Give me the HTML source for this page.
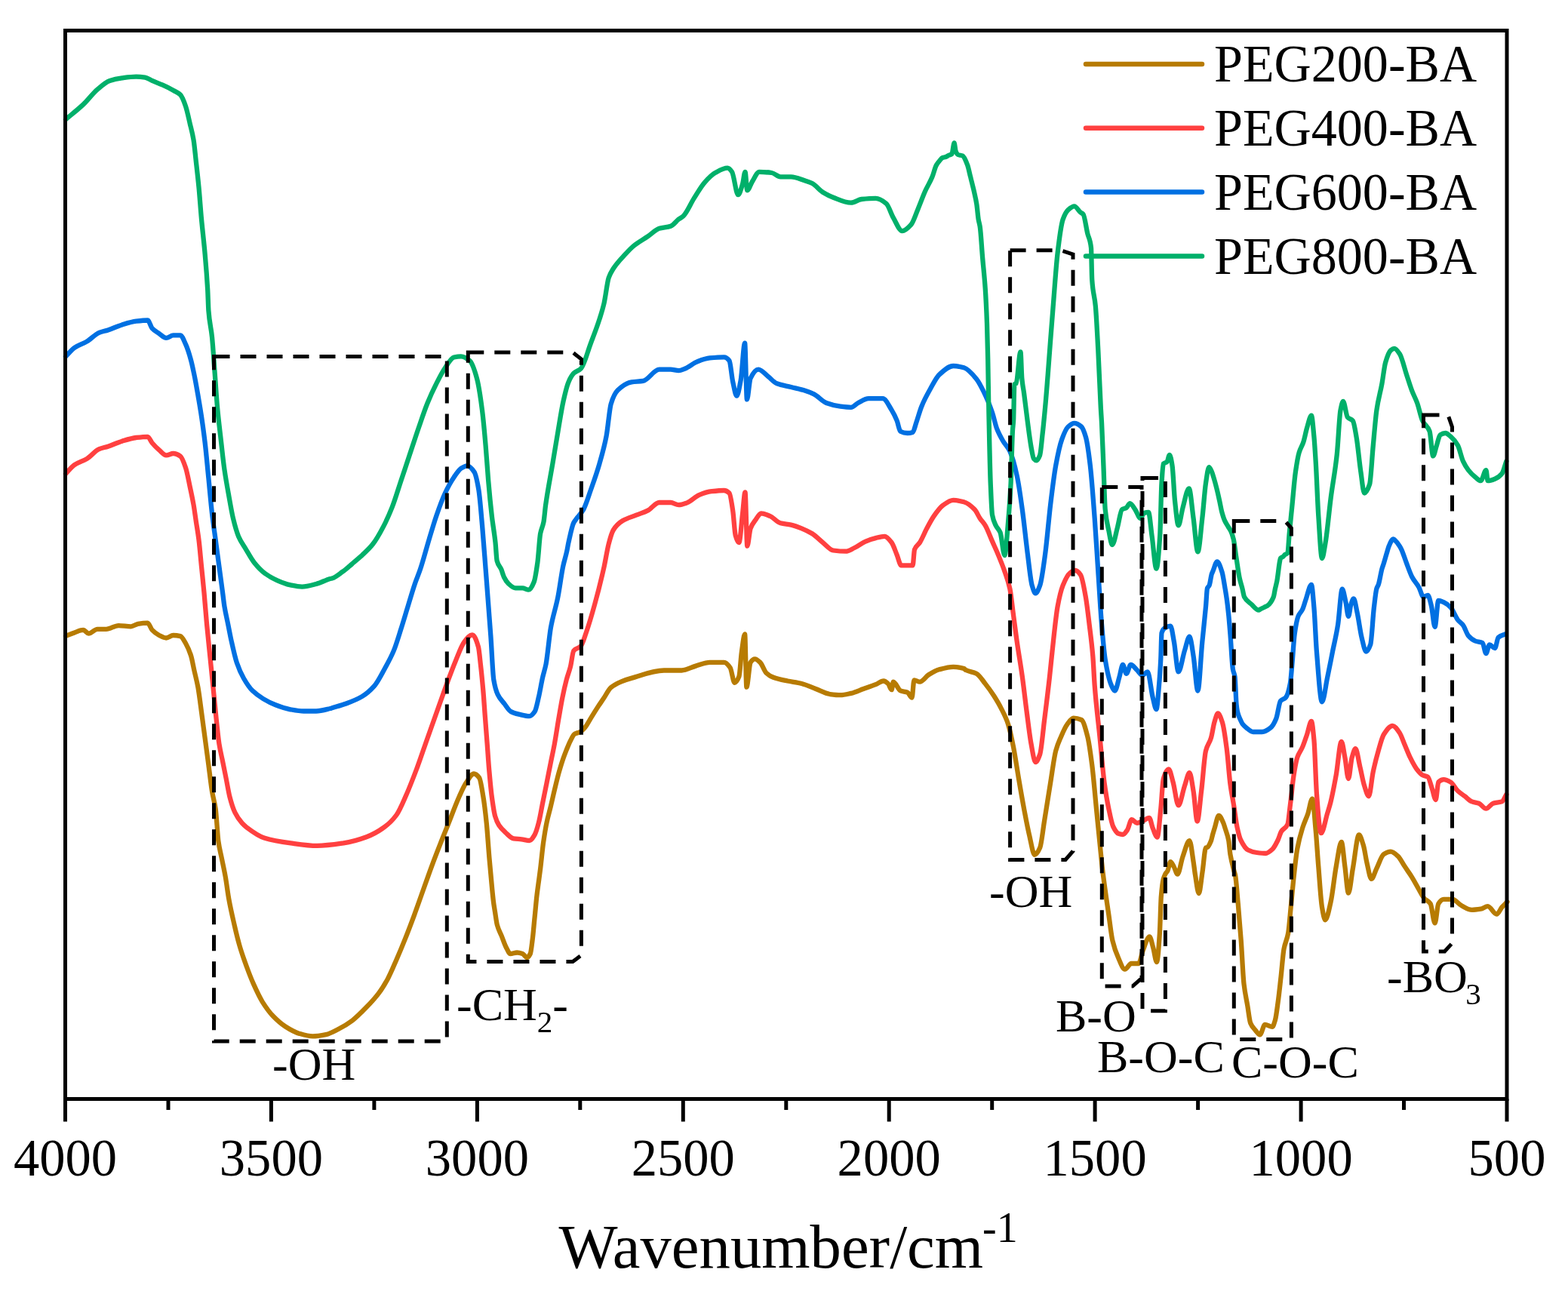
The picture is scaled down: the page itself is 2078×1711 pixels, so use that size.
<!DOCTYPE html>
<html><head><meta charset="utf-8"><title>FTIR spectra</title>
<style>
html,body{margin:0;padding:0;background:#fff;}
svg{display:block;}
.t{font-family:"Liberation Serif","Times New Roman",serif;fill:#000;}
</style></head>
<body>
<svg width="2078" height="1711" viewBox="0 0 2078 1711">
<rect width="2078" height="1711" fill="#fff"/>
<path d="M87.0,843.1C90.9,841.5 94.8,839.7 98.7,838.4C102.6,837.1 106.5,834.9 110.4,834.9C112.7,834.9 115.1,839.6 117.4,839.6C121.3,839.6 125.2,833.8 129.1,833.8C133.0,833.8 136.9,833.8 140.8,833.8C146.2,833.8 151.7,829.1 157.1,829.1C162.6,829.1 168.0,830.3 173.5,830.3C176.6,830.3 179.8,827.3 182.9,826.8C187.2,826.1 191.4,825.6 195.7,825.6C197.7,825.6 199.6,832.8 201.6,834.9C204.7,838.2 207.8,840.4 210.9,842.0C214.0,843.6 217.2,845.5 220.3,845.5C223.4,845.5 226.5,842.0 229.6,842.0C232.7,842.0 235.9,842.4 239.0,843.1C241.3,843.6 243.7,848.5 246.0,852.5C248.3,856.5 250.7,861.5 253.0,868.8C254.6,873.7 256.1,882.9 257.7,889.9C259.3,896.9 260.8,902.3 262.4,910.9C263.9,919.3 265.5,932.4 267.0,943.6C268.6,955.0 270.1,967.0 271.7,978.7C273.3,990.4 274.8,1002.0 276.4,1013.8C277.9,1025.4 279.5,1039.6 281.0,1048.8C282.6,1058.2 284.1,1061.1 285.7,1072.2C286.9,1080.9 288.2,1106.2 289.4,1115.0C290.9,1126.0 292.5,1130.7 294.0,1138.4C295.6,1146.3 297.1,1153.0 298.7,1161.8C300.3,1170.6 301.8,1183.6 303.4,1192.2C305.7,1205.0 308.1,1214.9 310.4,1225.0C312.7,1235.1 315.1,1245.0 317.4,1253.0C320.5,1263.8 323.7,1272.5 326.8,1281.0C329.9,1289.5 333.0,1297.5 336.1,1304.4C340.0,1313.1 343.9,1321.5 347.8,1327.8C352.5,1335.3 357.1,1341.6 361.8,1346.5C367.3,1352.2 372.7,1357.0 378.2,1360.5C384.4,1364.5 390.7,1368.1 396.9,1369.9C402.7,1371.6 408.6,1373.4 414.4,1373.4C420.3,1373.4 426.1,1372.3 432.0,1371.1C437.4,1370.0 442.9,1366.8 448.3,1364.0C454.5,1360.8 460.8,1357.1 467.0,1352.4C473.2,1347.7 479.5,1341.2 485.7,1334.8C491.2,1329.2 496.6,1323.4 502.1,1316.1C506.0,1310.9 509.9,1304.6 513.8,1297.4C517.7,1290.2 521.6,1280.6 525.5,1271.7C529.4,1262.8 533.3,1253.4 537.2,1243.6C541.1,1233.9 544.9,1223.8 548.8,1213.3C552.7,1202.8 556.6,1191.4 560.5,1180.5C564.4,1169.6 568.3,1158.3 572.2,1147.8C576.1,1137.3 580.0,1127.3 583.9,1117.4C587.0,1109.4 590.2,1101.8 593.3,1094.0C598.5,1081.1 603.6,1066.7 608.8,1055.3C611.7,1048.9 614.6,1042.1 617.5,1037.8C621.0,1032.6 624.5,1025.5 628.0,1025.5C630.4,1025.5 632.7,1027.6 635.1,1030.7C636.8,1033.0 638.6,1044.9 640.3,1055.3C641.8,1064.1 643.2,1075.9 644.7,1090.3C646.0,1102.6 647.2,1123.1 648.5,1137.7C649.5,1149.9 650.6,1161.0 651.6,1171.9C652.3,1179.5 653.1,1187.9 653.8,1193.8C654.5,1199.7 655.3,1203.8 656.0,1208.5C657.0,1214.6 657.9,1222.4 658.9,1226.0C660.9,1233.2 662.8,1235.7 664.8,1240.6C666.7,1245.4 668.7,1251.5 670.6,1255.2C672.5,1258.9 674.5,1264.0 676.4,1264.0C679.3,1264.0 682.3,1262.5 685.2,1262.5C687.6,1262.5 690.1,1263.2 692.5,1264.0C694.5,1264.7 696.4,1269.1 698.4,1269.1C699.9,1269.1 701.3,1267.0 702.8,1264.0C703.8,1262.0 704.7,1252.7 705.7,1245.0C706.7,1237.3 707.6,1225.5 708.6,1215.8C709.6,1206.1 710.5,1194.9 711.5,1186.5C712.5,1178.1 713.4,1172.1 714.4,1164.6C715.0,1160.1 715.6,1155.6 716.2,1150.8C717.5,1140.1 718.8,1125.9 720.1,1116.6C721.6,1106.2 723.0,1097.4 724.5,1090.3C726.2,1081.9 728.0,1076.5 729.7,1069.3C731.5,1061.9 733.2,1053.9 735.0,1046.5C736.7,1039.3 738.5,1031.8 740.2,1025.5C742.0,1019.1 743.7,1013.3 745.5,1008.0C747.2,1002.8 749.0,998.2 750.7,993.9C752.5,989.5 754.2,985.1 756.0,981.7C757.8,978.3 759.5,974.0 761.3,972.9C763.6,971.4 766.0,971.5 768.3,970.3C770.6,969.1 773.0,966.7 775.3,964.1C778.2,960.8 781.1,954.7 784.0,950.1C786.9,945.4 789.9,940.6 792.8,936.1C795.2,932.5 797.6,929.2 800.0,925.6C803.1,921.0 806.3,914.1 809.4,911.4C814.1,907.4 818.7,905.3 823.4,903.3C828.1,901.3 832.7,899.9 837.4,898.6C851.6,894.5 865.8,888.5 880.0,888.5C887.8,888.5 895.6,888.5 903.4,888.5C909.6,888.5 915.9,884.3 922.1,882.6C928.3,880.9 934.6,877.9 940.8,877.9C947.0,877.9 953.3,877.9 959.5,877.9C962.2,877.9 965.0,881.1 967.7,885.0C969.6,887.8 971.6,904.8 973.5,904.8C975.5,904.8 977.4,901.7 979.4,896.6C980.6,893.6 981.7,872.1 982.9,863.9C984.3,854.1 985.7,840.5 987.1,840.5C987.9,840.5 988.6,910.7 989.4,910.7C991.1,910.7 992.9,880.4 994.6,877.9C996.5,875.1 998.5,873.3 1000.4,873.3C1002.7,873.3 1005.1,875.7 1007.4,877.9C1010.1,880.5 1012.9,889.5 1015.6,892.0C1018.7,894.9 1021.8,896.6 1024.9,897.8C1031.1,900.1 1037.4,901.2 1043.6,902.5C1049.9,903.8 1056.1,904.4 1062.4,906.0C1068.6,907.6 1074.9,910.7 1081.1,913.0C1087.3,915.3 1093.6,919.2 1099.8,920.0C1104.5,920.6 1109.1,921.2 1113.8,921.2C1118.5,921.2 1123.1,919.9 1127.8,918.9C1133.3,917.7 1138.7,915.0 1144.2,913.0C1149.6,911.1 1155.1,909.4 1160.5,907.2C1164.0,905.8 1167.5,902.5 1171.0,902.5C1173.0,902.5 1174.9,904.2 1176.9,906.0C1178.5,907.4 1180.0,914.2 1181.6,914.2C1182.4,914.2 1183.1,903.7 1183.9,903.7C1187.0,903.7 1190.2,914.1 1193.3,915.4C1196.4,916.7 1199.5,916.4 1202.6,917.7C1204.6,918.5 1206.5,924.7 1208.5,924.7C1209.5,924.7 1210.5,901.3 1211.5,901.3C1214.0,901.3 1216.5,903.7 1219.0,903.7C1222.9,903.7 1226.8,896.7 1230.7,894.3C1235.4,891.4 1240.0,888.6 1244.7,887.3C1250.9,885.6 1257.2,883.8 1263.4,883.8C1268.1,883.8 1272.7,884.6 1277.4,886.1C1278.3,886.4 1279.1,887.6 1280.0,888.0C1284.7,890.4 1289.3,890.3 1294.0,892.8C1297.9,894.9 1301.8,901.2 1305.7,906.1C1309.6,911.0 1313.5,916.4 1317.4,922.5C1320.5,927.4 1323.7,932.6 1326.8,938.8C1329.9,944.9 1333.0,950.5 1336.1,959.9C1338.4,967.0 1340.8,978.5 1343.1,990.3C1345.4,1002.1 1347.8,1018.8 1350.1,1032.4C1352.4,1046.0 1354.8,1059.8 1357.1,1072.1C1359.5,1084.6 1361.8,1097.2 1364.2,1107.2C1366.5,1117.0 1368.9,1132.9 1371.2,1132.9C1373.5,1132.9 1375.9,1128.7 1378.2,1123.5C1380.1,1119.2 1382.1,1100.4 1384.0,1088.5C1386.7,1071.7 1389.5,1053.8 1392.2,1037.0C1394.5,1022.7 1396.9,1003.7 1399.2,995.0C1401.5,986.3 1403.9,981.6 1406.2,976.2C1408.9,969.9 1411.7,963.5 1414.4,959.9C1417.1,956.3 1419.9,951.7 1422.6,951.7C1426.1,951.7 1429.6,952.5 1433.1,954.0C1435.8,955.1 1438.6,965.6 1441.3,976.2C1443.3,983.8 1445.2,998.3 1447.2,1013.6C1449.1,1028.7 1451.1,1052.6 1453.0,1072.1C1454.9,1091.6 1456.9,1111.4 1458.8,1130.5C1459.5,1137.1 1460.1,1144.3 1460.8,1150.0C1463.7,1175.0 1466.6,1193.1 1469.5,1213.5C1471.1,1224.7 1472.7,1239.3 1474.3,1246.2C1476.9,1257.2 1479.4,1263.6 1482.0,1269.3C1484.9,1275.8 1487.8,1284.7 1490.7,1284.7C1493.6,1284.7 1496.4,1277.0 1499.3,1277.0C1502.5,1277.0 1505.8,1277.0 1509.0,1277.0C1510.9,1277.0 1512.8,1264.5 1514.7,1259.7C1517.6,1252.4 1520.5,1241.4 1523.4,1241.4C1525.0,1241.4 1526.6,1250.4 1528.2,1255.9C1529.8,1261.4 1531.4,1275.1 1533.0,1275.1C1534.3,1275.1 1535.6,1256.0 1536.9,1236.6C1537.5,1227.1 1538.2,1196.5 1538.8,1188.5C1539.8,1176.3 1540.7,1169.3 1541.7,1165.4C1542.5,1162.1 1543.4,1160.2 1544.2,1158.6C1545.3,1156.5 1546.4,1156.0 1547.5,1153.8C1548.7,1151.4 1550.0,1142.2 1551.2,1142.2C1552.7,1142.2 1554.1,1146.0 1555.6,1148.5C1557.2,1151.2 1558.9,1158.6 1560.5,1158.6C1562.8,1158.6 1565.2,1141.7 1567.5,1135.2C1570.5,1126.9 1573.4,1114.2 1576.4,1114.2C1578.1,1114.2 1579.9,1131.3 1581.6,1142.2C1582.4,1147.2 1583.2,1154.7 1584.0,1159.6C1585.6,1169.3 1587.2,1184.0 1588.8,1184.0C1590.3,1184.0 1591.9,1166.1 1593.5,1155.8C1595.0,1146.0 1596.5,1124.3 1598.0,1123.5C1598.7,1123.2 1599.3,1123.2 1600.0,1122.9C1601.7,1122.1 1603.3,1118.4 1605.0,1114.2C1605.7,1112.5 1606.3,1108.9 1607.0,1106.5C1607.9,1103.4 1608.7,1100.6 1609.6,1097.8C1611.5,1091.8 1613.3,1080.8 1615.2,1080.8C1617.2,1080.8 1619.3,1086.3 1621.3,1090.8C1622.0,1092.4 1622.7,1094.9 1623.4,1097.1C1625.0,1102.3 1626.7,1105.6 1628.3,1114.2C1629.0,1117.9 1629.7,1128.0 1630.4,1132.2C1632.1,1142.3 1633.7,1147.5 1635.4,1153.9C1635.9,1156.0 1636.5,1157.0 1637.0,1159.6C1638.3,1165.9 1639.5,1184.0 1640.8,1198.1C1642.1,1212.6 1643.4,1228.5 1644.7,1246.2C1646.0,1263.5 1647.2,1292.9 1648.5,1304.0C1650.1,1318.0 1651.7,1323.3 1653.3,1332.9C1654.6,1340.7 1655.9,1352.8 1657.2,1356.0C1659.4,1361.4 1661.7,1363.0 1663.9,1365.6C1665.8,1367.9 1667.8,1371.4 1669.7,1371.4C1671.9,1371.4 1674.2,1357.9 1676.4,1357.9C1679.6,1357.9 1682.9,1360.8 1686.1,1360.8C1687.4,1360.8 1688.6,1356.4 1689.9,1352.1C1691.2,1347.7 1692.5,1336.7 1693.8,1327.1C1695.1,1317.8 1696.3,1305.8 1697.6,1294.4C1698.9,1282.7 1700.2,1264.9 1701.5,1257.8C1703.4,1247.4 1705.3,1247.2 1707.2,1236.6C1708.5,1229.4 1709.8,1211.1 1711.1,1198.1C1712.4,1185.4 1713.6,1171.0 1714.9,1159.6C1716.3,1146.8 1717.8,1133.1 1719.2,1125.2C1721.5,1112.4 1723.9,1104.5 1726.2,1097.1C1728.6,1089.6 1730.9,1085.5 1733.3,1078.4C1735.2,1072.6 1737.2,1058.6 1739.1,1058.6C1740.7,1058.6 1742.2,1084.6 1743.8,1101.8C1745.0,1114.6 1746.1,1134.2 1747.3,1148.6C1748.9,1168.0 1750.4,1193.3 1752.0,1202.4C1753.4,1210.7 1754.9,1219.3 1756.3,1219.3C1758.7,1219.3 1761.2,1206.0 1763.6,1195.3C1766.0,1184.9 1768.3,1161.5 1770.7,1148.6C1773.0,1135.9 1775.4,1115.9 1777.7,1115.9C1779.3,1115.9 1780.8,1137.2 1782.4,1148.6C1783.9,1159.7 1785.5,1183.6 1787.0,1183.6C1789.0,1183.6 1790.9,1161.7 1792.9,1150.9C1795.6,1136.0 1798.3,1106.5 1801.0,1106.5C1803.0,1106.5 1804.9,1114.1 1806.9,1120.5C1808.5,1125.6 1810.0,1137.3 1811.6,1143.9C1813.5,1152.1 1815.5,1164.9 1817.4,1164.9C1819.7,1164.9 1822.1,1155.6 1824.4,1150.9C1827.5,1144.6 1830.7,1134.2 1833.8,1132.2C1836.9,1130.2 1840.0,1128.7 1843.1,1128.7C1846.2,1128.7 1849.4,1131.8 1852.5,1134.6C1855.6,1137.3 1858.7,1144.0 1861.8,1148.6C1864.9,1153.3 1868.1,1157.5 1871.2,1162.6C1874.3,1167.6 1877.4,1173.7 1880.5,1179.0C1882.8,1183.0 1885.2,1188.0 1887.5,1190.7C1890.2,1193.8 1893.0,1193.6 1895.7,1197.7C1897.7,1200.6 1899.6,1223.4 1901.6,1223.4C1903.2,1223.4 1904.7,1200.1 1906.3,1197.7C1908.6,1194.1 1911.0,1191.8 1913.3,1191.8C1917.2,1191.8 1921.1,1191.8 1925.0,1191.8C1928.9,1191.8 1932.7,1198.0 1936.6,1200.0C1941.3,1202.5 1946.0,1205.9 1950.7,1205.9C1954.6,1205.9 1958.5,1205.3 1962.4,1204.7C1965.5,1204.2 1968.6,1201.2 1971.7,1201.2C1975.6,1201.2 1979.5,1211.7 1983.4,1211.7C1985.7,1211.7 1988.1,1205.1 1990.4,1202.4C1992.7,1199.7 1995.1,1197.7 1997.4,1195.3" fill="none" stroke="#B77B02" stroke-width="6.3" stroke-linejoin="round" stroke-linecap="round"/>
<path d="M87.0,627.9C90.9,624.0 94.8,618.8 98.7,616.2C104.1,612.5 109.6,611.4 115.0,608.1C120.5,604.8 125.9,597.5 131.4,595.2C135.3,593.6 139.2,593.0 143.1,591.7C149.3,589.6 155.6,586.6 161.8,584.7C168.0,582.8 174.3,580.7 180.5,580.0C185.6,579.4 190.6,578.8 195.7,578.8C197.7,578.8 199.6,584.7 201.6,587.0C204.7,590.7 207.8,593.7 210.9,596.4C214.0,599.1 217.2,603.4 220.3,603.4C223.4,603.4 226.5,601.0 229.6,601.0C232.7,601.0 235.9,602.5 239.0,604.6C241.3,606.2 243.7,612.9 246.0,619.8C247.9,625.5 249.9,636.4 251.8,645.5C253.4,652.8 254.9,659.8 256.5,668.8C257.7,675.5 258.8,684.4 260.0,692.2C261.2,700.0 262.3,706.2 263.5,715.6C264.7,725.0 265.8,739.0 267.0,750.7C268.2,762.4 269.3,773.1 270.5,785.7C271.7,798.3 272.8,814.2 274.0,826.8C275.6,843.7 277.1,857.9 278.7,873.5C280.3,889.1 281.8,904.7 283.4,920.3C284.6,931.9 285.7,944.5 286.9,955.3C288.1,966.1 289.2,978.2 290.4,985.7C292.0,995.7 293.5,1001.3 295.1,1009.1C296.7,1016.9 298.2,1024.6 299.8,1032.5C301.3,1040.2 302.9,1050.0 304.4,1055.9C306.7,1064.9 309.1,1072.2 311.4,1076.9C314.5,1083.2 317.7,1087.4 320.8,1090.9C322.8,1093.1 324.8,1094.9 326.8,1096.4C334.6,1102.3 342.3,1108.0 350.1,1110.4C361.8,1114.0 373.5,1115.8 385.2,1117.4C396.9,1119.0 408.6,1120.9 420.3,1120.9C432.0,1120.9 443.6,1119.1 455.3,1117.4C465.4,1115.9 475.6,1112.9 485.7,1109.2C493.5,1106.3 501.3,1102.0 509.1,1096.4C514.6,1092.5 520.0,1087.5 525.5,1080.0C529.7,1074.2 534.0,1063.5 538.2,1054.0C542.9,1043.5 547.5,1031.4 552.2,1019.0C556.9,1006.6 561.5,992.4 566.2,979.2C570.9,965.9 575.6,952.7 580.3,939.5C584.2,928.6 588.1,917.3 592.0,906.8C595.9,896.3 599.7,885.6 603.6,876.4C607.5,867.1 611.4,855.6 615.3,850.7C618.8,846.3 622.4,841.3 625.9,841.3C628.6,841.3 631.3,848.1 634.0,857.7C634.9,861.0 635.9,871.7 636.8,880.0C638.0,890.3 639.1,901.6 640.3,915.1C641.2,925.1 642.0,938.6 642.9,950.1C643.8,962.0 644.7,973.3 645.6,985.2C646.5,996.7 647.3,1010.2 648.2,1020.2C649.4,1033.7 650.5,1046.5 651.7,1055.3C653.2,1066.4 654.6,1076.6 656.1,1081.6C657.8,1087.5 659.6,1091.1 661.3,1093.8C664.2,1098.3 667.2,1100.9 670.1,1103.5C673.6,1106.6 677.1,1110.9 680.6,1111.4C684.1,1111.9 687.6,1111.9 691.1,1112.3C694.6,1112.7 698.2,1114.0 701.7,1114.0C704.0,1114.0 706.4,1110.0 708.7,1106.1C710.4,1103.2 712.2,1096.8 713.9,1090.3C715.7,1083.6 717.4,1072.7 719.2,1064.0C721.0,1055.3 722.7,1046.6 724.5,1037.8C726.2,1029.1 728.0,1020.2 729.7,1011.5C731.5,1002.6 733.2,994.9 735.0,985.2C736.7,975.7 738.5,963.7 740.2,953.6C742.0,943.3 743.7,932.5 745.5,923.8C747.2,915.3 749.0,907.5 750.7,901.0C752.5,894.3 754.2,890.5 756.0,883.5C757.4,877.8 758.9,864.2 760.3,862.4C763.4,858.6 766.5,859.7 769.6,856.5C771.9,854.1 774.3,845.6 776.6,839.0C780.5,827.9 784.5,814.2 788.4,800.0C792.5,785.3 796.5,769.4 800.6,751.1C802.6,742.0 804.7,728.3 806.7,720.7C808.7,713.1 810.8,705.7 812.8,702.5C816.8,696.1 820.9,692.7 824.9,690.3C831.0,686.6 837.1,685.2 843.2,682.7C848.3,680.6 853.3,679.2 858.4,676.6C863.5,674.0 868.5,666.0 873.6,666.0C878.7,666.0 883.7,666.0 888.8,666.0C892.3,666.0 895.9,669.1 899.4,669.1C903.1,669.1 906.7,667.7 910.4,666.4C915.9,664.5 921.3,658.1 926.8,655.9C932.2,653.7 937.7,651.8 943.1,651.2C948.6,650.6 954.0,650.0 959.5,650.0C961.8,650.0 964.2,651.3 966.5,653.5C968.1,655.0 969.6,666.6 971.2,676.9C972.4,684.6 973.5,705.6 974.7,709.6C976.3,714.9 977.8,719.0 979.4,719.0C980.9,719.0 982.5,694.3 984.0,681.6C985.2,672.0 986.3,652.3 987.5,652.3C988.4,652.3 989.4,723.6 990.3,723.6C991.7,723.6 993.2,704.1 994.6,700.3C996.9,694.1 999.3,691.8 1001.6,688.6C1003.9,685.4 1006.3,680.4 1008.6,680.4C1012.5,680.4 1016.4,682.3 1020.3,683.9C1025.0,685.8 1029.6,692.1 1034.3,693.3C1039.0,694.5 1043.6,694.6 1048.3,695.6C1053.0,696.6 1057.7,698.4 1062.4,700.3C1067.1,702.2 1071.7,704.4 1076.4,707.3C1081.1,710.2 1085.7,715.3 1090.4,719.0C1095.1,722.7 1099.7,728.9 1104.4,729.5C1109.9,730.2 1115.3,730.7 1120.8,730.7C1124.7,730.7 1128.6,727.8 1132.5,726.0C1137.2,723.8 1141.8,719.8 1146.5,717.8C1151.2,715.8 1155.8,714.2 1160.5,713.1C1164.4,712.1 1168.3,710.8 1172.2,710.8C1175.3,710.8 1178.5,714.9 1181.6,719.0C1183.9,722.0 1186.3,729.7 1188.6,735.3C1190.5,739.9 1192.5,749.4 1194.4,749.4C1197.1,749.4 1199.9,749.4 1202.6,749.4C1204.9,749.4 1207.3,749.4 1209.6,749.4C1210.4,749.4 1211.2,730.4 1212.0,728.3C1214.3,722.2 1216.7,722.7 1219.0,719.0C1222.1,714.1 1225.2,706.1 1228.3,700.3C1231.4,694.4 1234.6,688.4 1237.7,683.9C1241.6,678.3 1245.5,672.7 1249.4,669.9C1254.1,666.6 1258.7,662.9 1263.4,662.9C1268.1,662.9 1272.7,664.0 1277.4,665.2C1282.2,666.5 1286.9,670.3 1291.7,675.3C1294.0,677.7 1296.4,683.5 1298.7,687.0C1301.0,690.5 1303.4,692.5 1305.7,696.4C1308.8,701.6 1311.9,710.4 1315.0,717.4C1317.7,723.6 1320.5,729.5 1323.2,736.1C1325.9,742.7 1328.7,749.2 1331.4,757.2C1333.7,764.0 1336.1,769.5 1338.4,780.5C1340.0,787.9 1341.5,803.9 1343.1,815.6C1344.7,827.3 1346.2,839.7 1347.8,850.7C1350.1,867.1 1352.5,880.0 1354.8,896.8C1356.8,911.0 1358.7,928.6 1360.7,943.5C1362.6,958.1 1364.6,975.3 1366.5,985.6C1368.4,995.9 1370.4,1010.1 1372.3,1010.1C1374.3,1010.1 1376.2,1005.3 1378.2,999.6C1380.1,994.0 1382.1,970.6 1384.0,955.2C1386.3,936.6 1388.7,917.7 1391.0,896.8C1392.2,886.0 1393.4,873.2 1394.6,862.4C1396.9,841.4 1399.3,816.5 1401.6,803.9C1403.9,791.3 1406.3,781.7 1408.6,775.9C1411.7,768.2 1414.8,761.8 1417.9,759.5C1420.3,757.7 1422.6,756.0 1425.0,756.0C1427.3,756.0 1429.7,758.6 1432.0,761.8C1434.3,765.0 1436.7,779.0 1439.0,792.2C1440.5,800.9 1442.1,814.7 1443.6,827.3C1445.2,840.2 1446.7,850.7 1448.3,869.4C1449.1,878.9 1449.9,898.1 1450.7,908.4C1453.0,938.5 1455.4,955.2 1457.7,978.6C1459.6,998.0 1461.6,1022.5 1463.5,1037.0C1465.5,1051.7 1467.4,1062.6 1469.4,1072.1C1471.3,1081.4 1473.3,1091.6 1475.2,1095.5C1477.5,1100.2 1479.9,1104.0 1482.2,1104.8C1484.1,1105.5 1486.1,1106.0 1488.0,1106.0C1490.0,1106.0 1491.9,1102.9 1493.9,1100.1C1495.9,1097.3 1497.8,1086.1 1499.8,1086.1C1502.1,1086.1 1504.5,1090.8 1506.8,1090.8C1509.1,1090.8 1511.5,1089.4 1513.8,1088.5C1516.9,1087.3 1520.0,1083.8 1523.1,1083.8C1524.7,1083.8 1526.2,1094.0 1527.8,1097.8C1529.8,1102.5 1531.7,1109.5 1533.7,1109.5C1535.2,1109.5 1536.8,1086.7 1538.3,1072.1C1539.5,1061.0 1540.6,1036.4 1541.8,1032.4C1544.1,1024.4 1546.5,1019.5 1548.8,1019.5C1550.8,1019.5 1552.7,1030.1 1554.7,1037.0C1557.0,1045.2 1559.4,1067.4 1561.7,1067.4C1564.4,1067.4 1567.2,1049.6 1569.9,1041.7C1572.1,1035.4 1574.2,1024.2 1576.4,1024.2C1578.1,1024.2 1579.9,1038.5 1581.6,1048.7C1583.3,1058.7 1585.0,1088.5 1586.7,1088.5C1588.5,1088.5 1590.3,1063.3 1592.1,1048.7C1594.1,1032.7 1596.0,1002.7 1598.0,995.0C1600.3,986.1 1602.6,985.8 1604.8,978.4C1606.4,973.4 1607.9,962.2 1609.4,957.2C1610.9,952.2 1612.5,945.5 1614.0,945.5C1616.0,945.5 1617.9,951.3 1619.9,957.2C1621.8,963.0 1623.8,977.5 1625.7,992.2C1627.3,1004.1 1628.8,1027.2 1630.4,1039.0C1631.9,1050.5 1633.5,1057.2 1635.0,1066.8C1636.6,1076.6 1638.1,1090.0 1639.7,1097.1C1641.3,1104.2 1642.8,1110.3 1644.4,1113.5C1647.6,1120.0 1650.7,1124.9 1653.9,1126.5C1657.8,1128.5 1661.7,1129.5 1665.6,1130.0C1669.4,1130.5 1673.3,1131.0 1677.1,1131.0C1680.2,1131.0 1683.4,1128.1 1686.5,1125.2C1688.8,1123.0 1691.2,1118.2 1693.5,1113.5C1695.1,1110.3 1696.6,1104.3 1698.2,1101.8C1700.9,1097.4 1703.7,1098.5 1706.4,1092.5C1707.6,1090.0 1708.7,1075.9 1709.9,1066.8C1711.5,1054.6 1713.0,1037.2 1714.6,1027.3C1716.1,1017.6 1717.7,1008.4 1719.2,1003.9C1721.5,997.0 1723.9,995.4 1726.2,989.9C1728.2,985.3 1730.1,979.2 1732.1,973.5C1734.0,967.9 1736.0,956.0 1737.9,956.0C1739.1,956.0 1740.2,968.4 1741.4,980.5C1742.6,992.8 1743.8,1037.9 1745.0,1052.9C1746.9,1077.6 1748.8,1104.2 1750.8,1104.2C1753.5,1104.2 1756.3,1087.5 1759.0,1078.4C1760.5,1073.3 1762.1,1068.6 1763.6,1062.4C1766.0,1052.9 1768.3,1040.5 1770.7,1027.3C1773.0,1014.3 1775.4,982.9 1777.7,982.9C1779.3,982.9 1780.8,995.8 1782.4,1003.9C1783.9,1011.8 1785.5,1032.0 1787.0,1032.0C1788.6,1032.0 1790.1,1009.4 1791.7,1003.9C1793.3,998.4 1794.8,992.2 1796.4,992.2C1798.3,992.2 1800.3,1007.5 1802.2,1015.6C1804.2,1023.8 1806.1,1035.2 1808.1,1041.3C1810.0,1047.3 1812.0,1055.3 1813.9,1055.3C1815.9,1055.3 1817.8,1031.8 1819.8,1022.6C1822.1,1011.7 1824.5,1002.6 1826.8,994.6C1829.1,986.6 1831.5,977.2 1833.8,973.5C1837.7,967.4 1841.6,961.8 1845.5,961.8C1848.6,961.8 1851.7,966.7 1854.8,971.2C1857.1,974.6 1859.5,982.1 1861.8,987.5C1864.1,992.9 1866.5,999.2 1868.8,1003.9C1871.9,1010.2 1875.1,1016.4 1878.2,1020.3C1880.5,1023.2 1882.9,1026.1 1885.2,1027.3C1887.5,1028.5 1889.9,1028.2 1892.2,1029.6C1894.2,1030.8 1896.1,1040.3 1898.1,1046.0C1899.6,1050.5 1901.2,1060.0 1902.7,1060.0C1903.9,1060.0 1905.1,1037.8 1906.3,1036.6C1908.6,1034.2 1911.0,1033.1 1913.3,1033.1C1916.4,1033.1 1919.5,1034.8 1922.6,1036.6C1925.7,1038.4 1928.9,1045.4 1932.0,1048.3C1935.1,1051.2 1938.2,1053.0 1941.3,1055.3C1944.4,1057.7 1947.6,1061.2 1950.7,1062.4C1953.8,1063.6 1956.9,1063.5 1960.0,1064.7C1963.1,1065.9 1966.3,1071.7 1969.4,1071.7C1972.5,1071.7 1975.6,1065.7 1978.7,1064.7C1982.6,1063.5 1986.5,1063.9 1990.4,1062.4C1992.4,1061.6 1994.3,1056.1 1996.3,1053.0" fill="none" stroke="#FF4040" stroke-width="6.3" stroke-linejoin="round" stroke-linecap="round"/>
<path d="M87.0,472.5C90.9,468.6 94.8,463.5 98.7,460.8C104.1,457.1 109.6,455.8 115.0,452.6C120.5,449.4 125.9,443.2 131.4,440.9C135.3,439.3 139.2,438.7 143.1,437.4C149.3,435.3 155.6,432.3 161.8,430.4C168.0,428.5 174.3,426.4 180.5,425.7C185.6,425.1 190.6,424.5 195.7,424.5C197.7,424.5 199.6,432.9 201.6,435.1C204.7,438.5 207.8,440.0 210.9,442.1C214.0,444.2 217.2,447.9 220.3,447.9C223.4,447.9 226.5,444.4 229.6,444.4C232.7,444.4 235.9,444.4 239.0,444.4C241.3,444.4 243.7,451.1 246.0,456.1C248.3,461.1 250.7,468.6 253.0,477.1C254.6,482.8 256.1,490.5 257.7,498.2C259.3,505.9 260.8,514.9 262.4,523.9C263.9,532.8 265.5,541.7 267.0,552.0C268.6,562.5 270.1,573.7 271.7,587.0C273.3,600.3 274.8,618.0 276.4,633.8C277.9,649.2 279.5,667.3 281.0,680.5C282.6,694.0 284.1,703.9 285.7,715.6C287.3,727.3 288.8,739.0 290.4,750.7C292.0,762.4 293.5,773.8 295.1,785.7C295.9,791.5 296.6,798.6 297.4,803.4C299.0,813.1 300.5,819.0 302.1,826.8C303.7,834.6 305.2,843.1 306.8,850.1C309.1,860.5 311.5,871.4 313.8,878.2C316.9,887.3 320.0,893.8 323.1,899.2C327.0,906.0 330.9,911.8 334.8,915.6C339.5,920.2 344.1,923.3 348.8,926.1C354.3,929.4 359.7,932.2 365.2,934.3C371.4,936.7 377.7,939.0 383.9,940.1C390.1,941.2 396.4,942.5 402.6,942.5C408.1,942.5 413.5,942.5 419.0,942.5C425.2,942.5 431.5,940.5 437.7,939.0C438.5,938.8 439.2,938.5 440.0,938.3C446.2,936.4 452.5,934.8 458.7,932.5C465.7,929.9 472.7,927.3 479.7,923.1C485.2,919.8 490.6,915.3 496.1,909.1C500.8,903.8 505.4,894.2 510.1,885.7C514.0,878.6 517.9,871.8 521.8,862.4C524.9,854.9 528.1,844.1 531.2,834.3C534.3,824.6 537.4,814.0 540.5,803.9C543.6,793.7 546.8,782.7 549.9,773.5C552.3,766.5 554.7,761.2 557.1,754.0C561.0,742.4 564.9,727.2 568.8,714.3C571.9,703.9 575.1,693.0 578.2,683.9C582.1,672.6 586.0,661.8 589.9,653.5C593.8,645.2 597.7,638.2 601.6,632.5C604.7,627.9 607.8,622.8 610.9,620.8C613.6,619.1 616.4,617.3 619.1,617.3C622.2,617.3 625.4,620.8 628.5,625.5C630.4,628.4 632.4,637.6 634.3,648.8C635.9,657.9 637.4,678.1 639.0,695.6C640.5,712.7 642.1,734.2 643.6,754.0C645.9,783.3 648.1,811.9 650.4,843.6C651.7,861.8 653.0,893.2 654.3,901.0C656.1,911.6 657.8,916.6 659.6,920.3C662.5,926.5 665.5,928.8 668.4,932.6C671.3,936.4 674.2,941.6 677.1,943.1C680.6,945.0 684.1,945.8 687.6,946.6C692.3,947.7 697.0,949.2 701.7,949.2C704.0,949.2 706.4,946.5 708.7,943.1C710.4,940.6 712.2,931.2 713.9,923.8C715.7,916.3 717.4,905.3 719.2,897.5C720.7,891.0 722.1,887.5 723.6,880.0C725.7,869.2 727.8,843.7 729.9,832.0C733.0,814.7 736.1,807.7 739.2,792.2C741.6,780.3 743.9,761.2 746.3,750.1C747.9,742.4 749.6,738.2 751.2,730.7C751.9,727.5 752.6,722.9 753.3,719.7C755.7,708.9 758.0,697.1 760.4,692.5C761.6,690.1 762.9,689.0 764.1,687.3C767.2,683.1 770.2,680.5 773.3,675.1C776.3,669.7 779.4,659.4 782.4,650.8C786.4,639.4 790.5,628.3 794.5,614.3C797.5,603.8 800.6,593.6 803.6,577.9C805.6,567.4 807.7,541.9 809.7,535.3C812.7,525.5 815.8,520.0 818.8,517.1C824.9,511.2 831.0,507.4 837.1,506.4C842.2,505.6 847.2,505.7 852.3,504.9C859.4,503.7 866.5,489.7 873.6,489.7C878.7,489.7 883.7,489.7 888.8,489.7C892.3,489.7 895.9,491.2 899.4,491.2C902.3,491.2 905.1,489.6 908.0,488.5C913.5,486.3 918.9,481.2 924.4,479.1C929.9,477.0 935.3,474.9 940.8,474.4C947.0,473.8 953.3,473.3 959.5,473.3C961.8,473.3 964.2,475.0 966.5,478.0C968.1,480.0 969.6,498.9 971.2,506.0C972.9,513.7 974.6,524.7 976.3,524.7C978.1,524.7 979.9,513.5 981.7,503.7C983.5,493.9 985.3,454.6 987.1,454.6C988.0,454.6 989.0,529.4 989.9,529.4C991.5,529.4 993.0,504.5 994.6,501.3C998.1,494.1 1001.6,489.6 1005.1,489.6C1009.4,489.6 1013.7,495.7 1018.0,499.0C1021.9,502.0 1025.7,506.8 1029.6,508.3C1035.8,510.8 1042.1,511.4 1048.3,513.0C1054.5,514.6 1060.8,515.7 1067.0,517.7C1070.9,518.9 1074.8,520.4 1078.7,522.4C1084.1,525.1 1089.6,532.0 1095.0,534.0C1101.3,536.3 1107.5,537.9 1113.8,538.7C1118.5,539.3 1123.1,539.9 1127.8,539.9C1130.9,539.9 1134.1,535.6 1137.2,534.0C1141.9,531.6 1146.5,528.2 1151.2,528.2C1157.4,528.2 1163.7,528.2 1169.9,528.2C1173.8,528.2 1177.7,537.1 1181.6,543.4C1183.9,547.1 1186.3,551.7 1188.6,557.4C1190.2,561.2 1191.7,570.9 1193.3,571.7C1196.4,573.3 1199.5,574.0 1202.6,574.0C1204.9,574.0 1207.3,573.6 1209.6,572.9C1211.2,572.4 1212.7,564.5 1214.3,560.0C1216.6,553.3 1219.0,544.4 1221.3,538.7C1225.2,529.1 1229.1,522.2 1233.0,515.3C1236.9,508.4 1240.8,500.2 1244.7,496.6C1250.9,490.8 1257.2,485.0 1263.4,485.0C1268.1,485.0 1272.7,486.0 1277.4,487.3C1282.9,488.8 1288.5,495.5 1294.0,502.3C1297.1,506.1 1300.3,512.4 1303.4,518.7C1307.3,526.5 1311.1,535.5 1315.0,546.8C1317.0,552.6 1319.0,562.6 1321.0,567.8C1323.7,574.8 1326.4,579.5 1329.1,584.2C1332.2,589.6 1335.3,591.7 1338.4,598.2C1341.5,604.8 1344.7,616.6 1347.8,630.9C1350.1,641.5 1352.5,658.5 1354.8,675.3C1357.1,692.1 1359.5,715.9 1361.8,733.8C1363.8,748.9 1365.7,769.2 1367.7,775.9C1369.2,781.1 1370.8,786.4 1372.3,786.4C1374.3,786.4 1376.2,781.2 1378.2,775.9C1380.5,769.6 1382.9,750.9 1385.2,733.8C1387.5,716.7 1389.9,687.5 1392.2,668.3C1394.5,649.1 1396.9,629.6 1399.2,616.9C1401.9,602.0 1404.7,589.2 1407.4,581.8C1410.1,574.4 1412.9,567.9 1415.6,565.5C1418.3,563.1 1421.1,560.8 1423.8,560.8C1426.9,560.8 1430.0,562.8 1433.1,565.5C1435.1,567.2 1437.0,572.7 1439.0,579.5C1440.9,586.2 1442.9,600.8 1444.8,616.9C1446.8,633.3 1448.7,660.6 1450.7,687.0C1452.2,707.6 1453.8,734.1 1455.3,757.2C1456.9,780.8 1458.4,808.6 1460.0,827.3C1461.6,846.0 1463.1,864.4 1464.7,874.0C1467.4,890.7 1470.2,902.5 1472.9,908.4C1474.4,911.7 1476.0,915.5 1477.5,915.5C1479.5,915.5 1481.4,903.9 1483.4,897.4C1484.9,892.3 1486.5,881.0 1488.0,881.0C1489.6,881.0 1491.1,892.8 1492.7,892.8C1494.7,892.8 1496.6,881.0 1498.6,881.0C1501.3,881.0 1504.1,885.5 1506.8,888.0C1509.1,890.2 1511.5,895.0 1513.8,895.0C1516.1,895.0 1518.5,890.4 1520.8,890.4C1523.1,890.4 1525.5,915.8 1527.8,924.8C1529.4,930.8 1530.9,940.0 1532.5,940.0C1533.7,940.0 1534.8,921.9 1536.0,908.4C1536.8,899.6 1537.5,889.1 1538.3,873.4C1538.7,865.2 1539.1,840.4 1539.5,839.0C1541.1,833.6 1542.6,832.9 1544.2,832.0C1546.5,830.6 1548.9,829.6 1551.2,829.6C1552.8,829.6 1554.3,842.3 1555.9,850.7C1557.8,861.1 1559.8,890.4 1561.7,890.4C1564.4,890.4 1567.2,870.9 1569.9,862.4C1572.1,855.7 1574.2,843.7 1576.4,843.7C1578.1,843.7 1579.9,858.9 1581.6,869.4C1583.5,881.1 1585.5,915.5 1587.4,915.5C1589.4,915.5 1591.3,871.2 1593.3,850.7C1594.9,834.4 1596.4,821.3 1598.0,803.9C1598.7,796.5 1599.3,781.2 1600.0,779.5C1600.9,777.3 1601.7,777.7 1602.6,775.9C1603.7,773.7 1604.7,764.1 1605.8,760.8C1606.3,759.3 1606.8,758.4 1607.3,757.2C1609.2,752.8 1611.1,744.5 1613.0,744.5C1615.2,744.5 1617.3,751.2 1619.5,758.0C1620.8,762.2 1622.2,772.3 1623.6,780.2C1624.3,784.4 1625.0,788.4 1625.7,793.5C1626.6,799.7 1627.4,807.0 1628.3,815.6C1629.0,822.5 1629.7,831.6 1630.4,840.3C1631.6,854.8 1632.7,880.3 1633.9,887.0C1634.8,892.0 1635.6,891.3 1636.5,896.8C1637.2,901.2 1637.9,927.0 1638.6,933.8C1639.1,938.3 1639.5,941.5 1640.0,943.5C1641.1,948.0 1642.1,950.0 1643.2,952.5C1644.5,955.4 1645.7,958.2 1647.0,959.9C1648.5,961.8 1649.9,963.1 1651.4,964.2C1654.5,966.6 1657.7,970.0 1660.8,970.0C1664.7,970.0 1668.6,970.0 1672.5,970.0C1676.4,970.0 1680.3,967.3 1684.2,964.2C1686.5,962.3 1688.9,958.1 1691.2,952.5C1693.1,947.9 1695.1,931.4 1697.0,929.1C1699.3,926.4 1701.7,927.0 1704.0,924.4C1706.0,922.2 1707.9,916.0 1709.9,905.7C1710.7,901.7 1711.4,890.8 1712.2,882.4C1713.4,869.6 1714.5,848.7 1715.7,840.3C1717.3,829.0 1718.8,820.8 1720.4,816.9C1722.3,812.1 1724.3,811.6 1726.2,807.5C1727.8,804.2 1729.3,797.9 1730.9,793.5C1733.2,786.9 1735.6,774.8 1737.9,774.8C1739.1,774.8 1740.2,791.9 1741.4,805.2C1742.6,818.5 1743.7,849.1 1744.9,863.6C1747.3,893.0 1749.6,930.3 1752.0,930.3C1754.3,930.3 1756.7,909.8 1759.0,898.7C1761.3,887.6 1763.7,875.3 1766.0,863.6C1768.3,851.9 1770.7,843.2 1773.0,828.6C1774.9,816.5 1776.9,780.7 1778.8,780.7C1780.4,780.7 1781.9,791.3 1783.5,798.2C1784.7,803.4 1785.8,816.9 1787.0,816.9C1788.2,816.9 1789.3,803.8 1790.5,800.5C1791.7,797.2 1792.8,793.5 1794.0,793.5C1795.6,793.5 1797.1,805.0 1798.7,812.2C1800.7,821.3 1802.6,836.9 1804.6,844.9C1806.5,852.8 1808.5,863.6 1810.4,863.6C1812.3,863.6 1814.3,859.8 1816.2,854.3C1817.8,849.8 1819.3,818.4 1820.9,805.2C1822.1,795.3 1823.2,783.8 1824.4,780.0C1825.2,777.4 1826.0,777.1 1826.8,774.8C1828.3,770.5 1829.9,759.4 1831.4,754.0C1832.2,751.2 1833.0,749.3 1833.8,746.8C1835.4,741.8 1836.9,735.8 1838.5,730.7C1839.3,728.2 1840.0,725.1 1840.8,723.4C1842.7,719.1 1844.7,714.3 1846.6,714.3C1847.0,714.3 1847.4,714.8 1847.8,715.2C1850.1,717.2 1852.5,720.2 1854.8,723.7C1855.6,724.9 1856.4,726.4 1857.2,728.1C1859.5,733.0 1861.9,740.8 1864.2,746.9C1866.5,753.0 1868.9,760.0 1871.2,764.5C1874.3,770.4 1877.4,772.9 1880.5,778.5C1882.5,782.0 1884.4,791.2 1886.4,791.2C1888.3,791.2 1890.3,788.8 1892.2,788.8C1893.8,788.8 1895.3,796.6 1896.9,802.9C1898.5,809.2 1900.0,830.9 1901.6,830.9C1903.2,830.9 1904.7,795.8 1906.3,795.8C1908.6,795.8 1911.0,797.1 1913.3,798.2C1916.4,799.6 1919.5,801.9 1922.6,805.2C1925.7,808.5 1928.9,817.7 1932.0,821.6C1934.3,824.5 1936.7,825.5 1939.0,828.6C1941.3,831.7 1943.7,840.0 1946.0,842.6C1949.1,846.1 1952.2,848.4 1955.3,849.6C1958.4,850.8 1961.6,850.4 1964.7,852.0C1966.3,852.8 1967.8,866.0 1969.4,866.0C1970.9,866.0 1972.5,854.3 1974.0,854.3C1976.4,854.3 1978.7,859.0 1981.1,859.0C1982.6,859.0 1984.2,846.3 1985.7,844.9C1988.8,842.0 1992.0,841.8 1995.1,840.3" fill="none" stroke="#0070E2" stroke-width="6.3" stroke-linejoin="round" stroke-linecap="round"/>
<path d="M87.0,158.3C94.8,151.7 102.6,145.8 110.4,138.4C116.6,132.5 122.8,123.9 129.0,118.6C134.5,113.9 140.0,108.7 145.5,106.9C150.9,105.1 156.4,104.1 161.8,103.4C168.0,102.6 174.3,101.7 180.5,101.7C184.4,101.7 188.3,102.1 192.2,102.7C195.3,103.2 198.5,105.5 201.6,106.9C206.3,108.9 210.9,110.6 215.6,112.7C220.3,114.8 224.9,117.1 229.6,119.7C232.7,121.5 235.9,122.5 239.0,125.6C241.3,127.9 243.7,134.1 246.0,140.8C247.9,146.3 249.9,156.0 251.8,164.2C253.4,170.9 254.9,175.8 256.5,185.2C257.7,192.2 258.8,205.1 260.0,215.6C261.2,226.1 262.3,236.0 263.5,248.3C264.7,260.6 265.8,277.6 267.0,290.4C268.6,307.5 270.1,319.2 271.7,337.2C272.9,350.6 274.0,363.3 275.2,384.0C275.6,391.1 276.0,406.6 276.4,411.7C277.9,431.2 279.5,431.9 281.0,446.8C282.2,458.5 283.4,477.7 284.6,493.5C285.8,508.9 286.9,527.5 288.1,540.3C289.6,557.1 291.2,568.9 292.7,582.4C294.3,596.2 295.8,611.1 297.4,622.1C299.4,635.9 301.3,646.2 303.3,657.2C305.2,668.0 307.2,679.7 309.1,687.6C311.4,697.2 313.8,705.5 316.1,710.9C319.2,718.2 322.4,722.1 325.5,727.3C329.4,733.8 333.3,741.2 337.2,746.0C341.9,751.8 346.5,756.6 351.2,760.0C356.7,764.0 362.1,767.0 367.6,769.4C373.0,771.8 378.5,774.1 383.9,775.2C389.4,776.3 394.8,777.6 400.3,777.6C406.5,777.6 412.8,775.6 419.0,774.0C425.2,772.4 431.5,768.6 437.7,767.0C438.5,766.8 439.2,766.7 440.0,766.5C444.7,765.1 449.3,761.0 454.0,757.7C457.1,755.5 460.3,752.7 463.4,750.1C465.0,748.8 466.5,747.4 468.1,746.0C472.0,742.6 475.9,739.4 479.9,735.8C484.6,731.3 489.3,727.3 494.0,721.3C498.7,715.4 503.4,706.9 508.1,697.9C512.0,690.5 515.8,682.0 519.7,672.2C523.6,662.3 527.5,648.9 531.4,637.2C535.3,625.5 539.2,613.8 543.1,602.1C547.0,590.4 550.9,578.3 554.8,567.0C558.7,555.7 562.6,543.9 566.5,534.3C570.4,524.7 574.3,516.3 578.2,508.6C582.1,500.9 586.0,493.1 589.9,487.5C593.8,481.9 597.7,474.4 601.6,473.5C604.7,472.8 607.8,472.3 610.9,472.3C614.8,472.3 618.7,474.8 622.6,478.2C625.7,480.9 628.9,490.3 632.0,501.6C634.3,510.0 636.7,525.7 639.0,543.6C640.5,555.4 642.1,572.8 643.6,590.4C644.8,604.2 646.0,623.5 647.2,637.2C648.7,654.8 650.3,670.7 651.8,683.9C653.4,697.4 654.9,704.4 656.5,719.0C657.2,725.5 657.9,740.4 658.6,743.1C660.5,750.5 662.5,750.2 664.4,754.8C665.6,757.7 666.8,762.6 668.0,765.0C669.9,768.8 671.9,771.7 673.8,773.5C676.9,776.3 680.0,779.4 683.1,779.4C686.2,779.4 689.4,779.4 692.5,779.4C695.2,779.4 698.0,781.7 700.7,781.7C703.0,781.7 705.4,776.9 707.7,771.2C709.3,767.4 710.8,756.8 712.4,745.5C713.6,736.6 714.9,713.9 716.1,707.3C717.6,699.4 719.0,699.4 720.5,691.7C721.3,687.4 722.2,676.3 723.0,670.2C726.2,647.2 729.3,632.7 732.5,613.8C734.8,599.8 737.2,585.3 739.5,571.7C741.8,558.1 744.2,542.4 746.5,532.0C748.8,521.6 751.2,511.5 753.5,506.2C755.8,500.9 758.2,496.9 760.5,494.6C763.7,491.5 766.9,491.6 770.0,488.3C774.2,484.1 778.3,467.3 782.4,456.3C786.4,445.5 790.5,435.5 794.5,422.9C796.5,416.5 798.6,410.3 800.6,401.6C802.6,392.9 804.7,374.0 806.7,368.1C808.7,362.2 810.8,359.2 812.8,356.0C817.9,348.1 822.9,343.2 828.0,337.7C832.0,333.3 836.1,328.9 840.1,325.6C846.2,320.7 852.3,317.6 858.4,313.4C863.5,309.9 868.5,304.4 873.6,302.8C878.7,301.2 883.7,301.5 888.8,299.8C892.3,298.6 895.9,293.3 899.4,290.6C901.5,289.0 903.6,288.2 905.7,286.2C910.4,281.8 915.0,270.3 919.7,262.9C924.4,255.5 929.1,247.1 933.8,241.8C938.5,236.5 943.1,231.6 947.8,229.0C953.3,226.0 958.7,222.7 964.2,222.7C966.1,222.7 968.1,225.1 970.0,227.8C972.7,231.6 975.5,258.2 978.2,258.2C980.1,258.2 982.1,250.5 984.0,244.2C985.2,240.4 986.3,227.8 987.5,227.8C988.4,227.8 989.4,252.3 990.3,252.3C992.5,252.3 994.7,244.1 996.9,240.7C1000.0,235.9 1003.1,227.8 1006.2,227.8C1011.7,227.8 1017.1,228.3 1022.6,229.0C1026.5,229.5 1030.4,234.3 1034.3,234.3C1039.0,234.3 1043.6,234.3 1048.3,234.3C1054.5,234.3 1060.8,237.5 1067.0,239.5C1070.1,240.5 1073.3,241.4 1076.4,243.0C1081.1,245.3 1085.7,251.8 1090.4,254.7C1095.1,257.6 1099.7,259.9 1104.4,261.7C1112.2,264.7 1120.0,268.7 1127.8,268.7C1132.5,268.7 1137.1,264.5 1141.8,264.0C1148.0,263.4 1154.3,262.9 1160.5,262.9C1165.2,262.9 1169.9,266.0 1174.6,269.9C1177.7,272.5 1180.8,283.3 1183.9,288.6C1187.8,295.3 1191.7,306.1 1195.6,306.1C1199.5,306.1 1203.4,302.2 1207.3,297.9C1210.4,294.5 1213.5,284.2 1216.6,276.9C1219.7,269.5 1222.9,260.5 1226.0,253.5C1229.1,246.6 1232.2,242.2 1235.3,234.8C1237.2,230.3 1239.0,222.3 1240.9,218.9C1242.3,216.4 1243.6,214.8 1245.0,213.2C1246.4,211.6 1247.7,209.5 1249.1,209.0C1250.5,208.5 1251.8,208.5 1253.2,208.0C1254.6,207.5 1255.9,206.5 1257.3,205.8C1258.7,205.1 1260.1,205.1 1261.5,204.0C1262.5,203.2 1263.6,189.5 1264.6,189.5C1265.2,189.5 1265.9,198.3 1266.5,200.0C1267.5,202.7 1268.6,204.5 1269.6,205.0C1271.6,205.9 1273.7,205.6 1275.7,206.5C1277.9,207.4 1280.0,213.1 1282.2,218.9C1283.4,222.2 1284.7,228.7 1285.9,233.6C1287.5,239.9 1289.0,245.6 1290.6,252.5C1291.8,258.0 1293.1,262.7 1294.3,270.5C1295.1,275.5 1295.9,286.1 1296.7,290.9C1297.4,294.9 1298.0,296.0 1298.7,300.3C1299.9,307.9 1301.0,328.8 1302.2,342.4C1303.4,356.0 1304.5,364.8 1305.7,382.1C1306.5,393.5 1307.2,407.7 1308.0,428.9C1308.4,440.0 1308.8,456.9 1309.2,475.6C1309.6,494.3 1310.0,526.5 1310.4,546.2C1311.2,583.9 1311.9,620.9 1312.7,640.3C1313.5,659.7 1314.2,678.1 1315.0,682.4C1316.6,691.1 1318.1,693.1 1319.7,696.4C1321.7,700.5 1323.6,700.9 1325.6,705.7C1327.5,710.4 1329.5,736.1 1331.4,736.1C1333.0,736.1 1334.5,709.9 1336.1,691.7C1337.3,678.1 1338.4,663.6 1339.6,640.3C1340.4,624.3 1341.2,582.5 1342.0,570.0C1342.4,564.3 1342.7,563.9 1343.1,557.4C1343.5,550.3 1343.9,509.8 1344.3,509.4C1345.1,508.6 1345.8,508.9 1346.6,508.3C1348.6,506.7 1350.5,466.3 1352.5,466.3C1353.1,466.3 1353.7,494.8 1354.3,501.3C1355.2,511.5 1356.2,514.5 1357.1,521.5C1358.7,533.3 1360.2,547.1 1361.8,558.9C1363.3,570.4 1364.9,583.2 1366.4,591.6C1367.6,598.2 1368.8,606.5 1370.0,607.9C1371.2,609.3 1372.3,610.3 1373.5,610.3C1375.0,610.3 1376.6,607.3 1378.1,603.3C1379.3,600.2 1380.4,585.6 1381.6,575.2C1382.8,564.8 1383.9,552.9 1385.1,540.2C1386.3,527.5 1387.4,512.9 1388.6,498.1C1389.8,483.3 1390.9,466.6 1392.1,451.4C1393.3,436.2 1394.4,421.4 1395.6,407.0C1397.6,382.3 1399.6,352.0 1401.6,335.3C1403.9,315.8 1406.3,297.5 1408.6,290.9C1410.9,284.3 1413.3,280.2 1415.6,278.1C1418.3,275.7 1421.1,273.4 1423.8,273.4C1426.5,273.4 1429.3,279.5 1432.0,281.6C1433.2,282.5 1434.3,282.6 1435.5,283.9C1437.4,286.0 1439.4,301.5 1441.3,309.6C1442.9,316.2 1444.4,315.0 1446.0,328.3C1446.4,331.7 1446.8,364.7 1447.2,370.4C1448.7,392.4 1450.3,389.2 1451.8,405.5C1453.0,417.9 1454.1,441.8 1455.3,463.9C1456.5,486.0 1457.6,519.1 1458.8,540.4C1459.2,547.7 1459.6,552.4 1460.0,560.0C1460.8,575.2 1461.6,597.3 1462.4,616.9C1463.2,635.7 1463.9,667.3 1464.7,675.3C1466.3,691.6 1467.8,695.8 1469.4,703.4C1470.9,710.8 1472.5,722.1 1474.0,722.1C1476.3,722.1 1478.7,707.2 1481.0,698.7C1483.0,691.5 1484.9,676.7 1486.9,675.3C1488.8,673.9 1490.8,674.2 1492.7,673.0C1494.3,672.0 1495.8,667.2 1497.4,667.2C1499.7,667.2 1502.1,672.1 1504.4,675.3C1506.7,678.5 1509.1,687.0 1511.4,687.0C1513.0,687.0 1514.5,680.6 1516.1,680.0C1518.1,679.3 1520.0,678.8 1522.0,678.8C1523.5,678.8 1525.1,699.5 1526.6,710.4C1528.6,724.3 1530.5,753.7 1532.5,753.7C1534.1,753.7 1535.6,734.0 1537.2,710.4C1538.0,698.8 1538.7,652.8 1539.5,640.3C1540.3,627.8 1541.0,615.4 1541.8,614.6C1543.4,612.9 1544.9,613.6 1546.5,612.2C1547.7,611.2 1548.8,602.9 1550.0,602.9C1551.2,602.9 1552.3,609.7 1553.5,616.9C1554.7,624.1 1555.8,652.7 1557.0,663.6C1558.6,678.2 1560.1,696.4 1561.7,696.4C1563.6,696.4 1565.6,679.9 1567.5,673.0C1570.2,663.3 1573.0,647.3 1575.7,647.3C1577.7,647.3 1579.6,672.9 1581.6,687.0C1583.5,700.8 1585.5,731.4 1587.4,731.4C1589.4,731.4 1591.3,703.9 1593.3,687.0C1594.9,673.5 1596.4,650.7 1598.0,640.3C1599.4,631.0 1600.8,619.2 1602.2,619.2C1603.3,619.2 1604.4,622.1 1605.5,624.4C1606.7,626.8 1607.8,631.0 1609.0,634.9C1610.2,638.8 1611.3,643.1 1612.5,647.8C1613.7,652.5 1614.8,657.7 1616.0,663.0C1617.2,668.3 1618.3,675.1 1619.5,679.4C1620.7,683.7 1621.8,687.3 1623.0,689.9C1624.6,693.4 1626.1,695.4 1627.7,698.1C1628.9,700.1 1630.0,701.4 1631.2,703.9C1632.4,706.4 1633.5,709.6 1634.7,714.4C1635.9,719.2 1637.0,730.3 1638.2,737.8C1639.8,747.9 1641.3,759.8 1642.9,767.0C1644.1,772.4 1645.2,775.4 1646.4,780.0C1647.3,783.5 1648.2,789.5 1649.1,791.2C1652.2,797.1 1655.4,798.2 1658.6,801.0C1661.7,803.9 1664.9,808.6 1668.1,808.6C1668.8,808.6 1669.4,807.9 1670.1,807.5C1672.5,806.2 1675.0,805.1 1677.4,803.9C1678.1,803.6 1678.8,803.4 1679.5,802.9C1682.2,801.1 1685.0,797.9 1687.7,791.2C1688.5,789.3 1689.2,783.5 1690.0,780.0C1690.8,776.5 1691.5,774.1 1692.3,770.1C1693.5,763.8 1694.7,751.1 1695.9,744.7C1696.3,742.7 1696.6,740.1 1697.0,739.7C1698.2,738.3 1699.3,738.6 1700.5,737.7C1701.3,737.1 1702.1,735.7 1702.9,735.1C1704.1,734.2 1705.2,734.4 1706.4,733.0C1707.2,732.1 1707.9,715.4 1708.7,707.3C1709.9,694.9 1711.0,683.8 1712.2,672.2C1713.8,656.6 1715.3,636.6 1716.9,625.5C1718.5,614.4 1720.0,605.1 1721.6,599.8C1723.5,593.2 1725.5,591.6 1727.4,585.7C1729.0,580.9 1730.5,572.2 1732.1,567.0C1734.0,560.6 1736.0,550.7 1737.9,550.7C1739.1,550.7 1740.2,566.4 1741.4,578.7C1742.2,587.1 1743.0,600.4 1743.8,613.8C1745.0,633.3 1746.1,666.2 1747.3,683.9C1748.9,707.6 1750.4,740.0 1752.0,740.0C1753.5,740.0 1755.1,727.9 1756.6,719.0C1758.9,705.5 1761.3,678.5 1763.6,660.5C1766.3,639.4 1769.1,627.5 1771.8,602.1C1773.4,587.5 1774.9,551.6 1776.5,543.6C1777.7,537.7 1778.8,532.0 1780.0,532.0C1782.0,532.0 1783.9,550.7 1785.9,553.0C1788.2,555.7 1790.6,554.8 1792.9,557.7C1794.4,559.6 1796.0,569.9 1797.5,578.7C1799.5,590.0 1801.4,612.2 1803.4,625.5C1805.0,636.1 1806.5,653.5 1808.1,653.5C1810.4,653.5 1812.8,648.9 1815.1,641.8C1816.7,637.0 1818.2,606.9 1819.8,590.4C1821.3,574.2 1822.9,554.1 1824.4,543.6C1826.7,527.6 1829.1,521.4 1831.4,508.6C1833.0,500.0 1834.5,485.9 1836.1,480.5C1838.4,472.4 1840.8,466.1 1843.1,464.2C1844.7,462.9 1846.2,461.8 1847.8,461.8C1850.1,461.8 1852.5,465.4 1854.8,468.8C1857.9,473.4 1861.1,487.5 1864.2,496.9C1866.5,503.9 1868.9,511.8 1871.2,517.9C1873.5,524.0 1875.9,527.9 1878.2,534.3C1880.5,540.7 1882.9,552.8 1885.2,557.7C1888.3,564.3 1891.5,563.4 1894.6,571.7C1896.1,575.8 1897.7,604.4 1899.2,604.4C1900.8,604.4 1902.3,595.1 1903.9,590.4C1905.5,585.7 1907.0,577.4 1908.6,576.4C1910.9,574.9 1913.3,574.0 1915.6,574.0C1917.9,574.0 1920.3,576.7 1922.6,578.7C1925.7,581.4 1928.9,584.8 1932.0,590.4C1934.3,594.6 1936.7,606.4 1939.0,611.4C1941.3,616.4 1943.7,620.1 1946.0,623.1C1949.1,627.1 1952.2,630.0 1955.3,632.5C1957.7,634.4 1960.0,637.2 1962.4,637.2C1964.7,637.2 1967.1,623.1 1969.4,623.1C1970.2,623.1 1970.9,637.2 1971.7,637.2C1974.8,637.2 1978.0,636.0 1981.1,634.8C1984.2,633.6 1987.3,631.6 1990.4,627.8C1992.4,625.4 1994.3,616.9 1996.3,611.4" fill="none" stroke="#00B06A" stroke-width="6.3" stroke-linejoin="round" stroke-linecap="round"/>
<path d="M283.5,472.4 L592.3,472.4 L592.3,1380 L283.5,1380 Z" fill="none" stroke="#000" stroke-width="5" stroke-dasharray="21 14"/>
<path d="M620.3,467 L759,467 L770.4,476 L770.4,1266 L759,1274.5 L620.3,1274.5 Z" fill="none" stroke="#000" stroke-width="5" stroke-dasharray="21 14"/>
<path d="M1338.6,331.8 L1406,331.8 L1422,337 L1422,1128 L1412,1139.4 L1338.6,1139.4 Z" fill="none" stroke="#000" stroke-width="5" stroke-dasharray="21 14"/>
<path d="M1460.3,645.5 L1513,645.5 L1513,1296.3 L1501,1307 L1460.3,1307 Z" fill="none" stroke="#000" stroke-width="5" stroke-dasharray="21 14"/>
<path d="M1514,633.5 L1544.4,633.5 L1544.4,1339.8 L1514,1339.8 Z" fill="none" stroke="#000" stroke-width="5" stroke-dasharray="21 14"/>
<path d="M1635.3,690.5 L1703,690.5 L1711.4,700 L1711.4,1377.5 L1635.3,1377.5 Z" fill="none" stroke="#000" stroke-width="5" stroke-dasharray="21 14"/>
<path d="M1886.5,550 L1919,550 L1924.5,566 L1924.5,1250 L1914.5,1261 L1886.5,1261 Z" fill="none" stroke="#000" stroke-width="5" stroke-dasharray="21 14"/>
<rect x="86.5" y="40.5" width="1910.5" height="1416.0" fill="none" stroke="#000" stroke-width="5"/>
<line x1="86.5" y1="1456.5" x2="86.5" y2="1486.5" stroke="#000" stroke-width="5"/>
<line x1="223.0" y1="1456.5" x2="223.0" y2="1471.0" stroke="#000" stroke-width="5"/>
<line x1="359.4" y1="1456.5" x2="359.4" y2="1486.5" stroke="#000" stroke-width="5"/>
<line x1="495.9" y1="1456.5" x2="495.9" y2="1471.0" stroke="#000" stroke-width="5"/>
<line x1="632.4" y1="1456.5" x2="632.4" y2="1486.5" stroke="#000" stroke-width="5"/>
<line x1="768.8" y1="1456.5" x2="768.8" y2="1471.0" stroke="#000" stroke-width="5"/>
<line x1="905.3" y1="1456.5" x2="905.3" y2="1486.5" stroke="#000" stroke-width="5"/>
<line x1="1041.8" y1="1456.5" x2="1041.8" y2="1471.0" stroke="#000" stroke-width="5"/>
<line x1="1178.2" y1="1456.5" x2="1178.2" y2="1486.5" stroke="#000" stroke-width="5"/>
<line x1="1314.7" y1="1456.5" x2="1314.7" y2="1471.0" stroke="#000" stroke-width="5"/>
<line x1="1451.1" y1="1456.5" x2="1451.1" y2="1486.5" stroke="#000" stroke-width="5"/>
<line x1="1587.6" y1="1456.5" x2="1587.6" y2="1471.0" stroke="#000" stroke-width="5"/>
<line x1="1724.1" y1="1456.5" x2="1724.1" y2="1486.5" stroke="#000" stroke-width="5"/>
<line x1="1860.5" y1="1456.5" x2="1860.5" y2="1471.0" stroke="#000" stroke-width="5"/>
<line x1="1997.0" y1="1456.5" x2="1997.0" y2="1486.5" stroke="#000" stroke-width="5"/>
<text transform="translate(86.5,1558) scale(0.987,1)" text-anchor="middle" class="t" font-size="69.5">4000</text>
<text transform="translate(359.4,1558) scale(0.987,1)" text-anchor="middle" class="t" font-size="69.5">3500</text>
<text transform="translate(632.4,1558) scale(0.987,1)" text-anchor="middle" class="t" font-size="69.5">3000</text>
<text transform="translate(905.3,1558) scale(0.987,1)" text-anchor="middle" class="t" font-size="69.5">2500</text>
<text transform="translate(1178.2,1558) scale(0.987,1)" text-anchor="middle" class="t" font-size="69.5">2000</text>
<text transform="translate(1451.1,1558) scale(0.987,1)" text-anchor="middle" class="t" font-size="69.5">1500</text>
<text transform="translate(1724.1,1558) scale(0.987,1)" text-anchor="middle" class="t" font-size="69.5">1000</text>
<text transform="translate(1997.0,1558) scale(0.987,1)" text-anchor="middle" class="t" font-size="69.5">500</text>
<line x1="1439" y1="85.0" x2="1593" y2="85.0" stroke="#B77B02" stroke-width="6.5" stroke-linecap="round"/>
<text transform="translate(1609,108.4) scale(0.9665,1)" x="0" y="0" class="t" font-size="70.5">PEG200-BA</text>
<line x1="1439" y1="169.8" x2="1593" y2="169.8" stroke="#FF4040" stroke-width="6.5" stroke-linecap="round"/>
<text transform="translate(1609,193.2) scale(0.9665,1)" x="0" y="0" class="t" font-size="70.5">PEG400-BA</text>
<line x1="1439" y1="254.6" x2="1593" y2="254.6" stroke="#0070E2" stroke-width="6.5" stroke-linecap="round"/>
<text transform="translate(1609,278.0) scale(0.9665,1)" x="0" y="0" class="t" font-size="70.5">PEG600-BA</text>
<line x1="1439" y1="339.4" x2="1593" y2="339.4" stroke="#00B06A" stroke-width="6.5" stroke-linecap="round"/>
<text transform="translate(1609,362.8) scale(0.9665,1)" x="0" y="0" class="t" font-size="70.5">PEG800-BA</text>
<text x="361" y="1430.7" class="t" font-size="62">-OH</text>
<text x="605" y="1352.4" class="t" font-size="62">-CH<tspan font-size="41" dy="16">2</tspan><tspan dy="-16">-</tspan></text>
<text x="1311" y="1201.7" class="t" font-size="62">-OH</text>
<text x="1399" y="1366.6" class="t" font-size="62">B-O</text>
<text x="1454" y="1420.5" class="t" font-size="62">B-O-C</text>
<text x="1632" y="1428.2" class="t" font-size="62">C-O-C</text>
<text x="1838" y="1315" class="t" font-size="62">-BO<tspan font-size="41" dx="-2.5" dy="16">3</tspan></text>
<text x="740.4" y="1680" class="t" font-size="82.7">Wavenumber/cm</text>
<text x="1302" y="1646" class="t" font-size="56">-1</text>
</svg>
</body></html>
